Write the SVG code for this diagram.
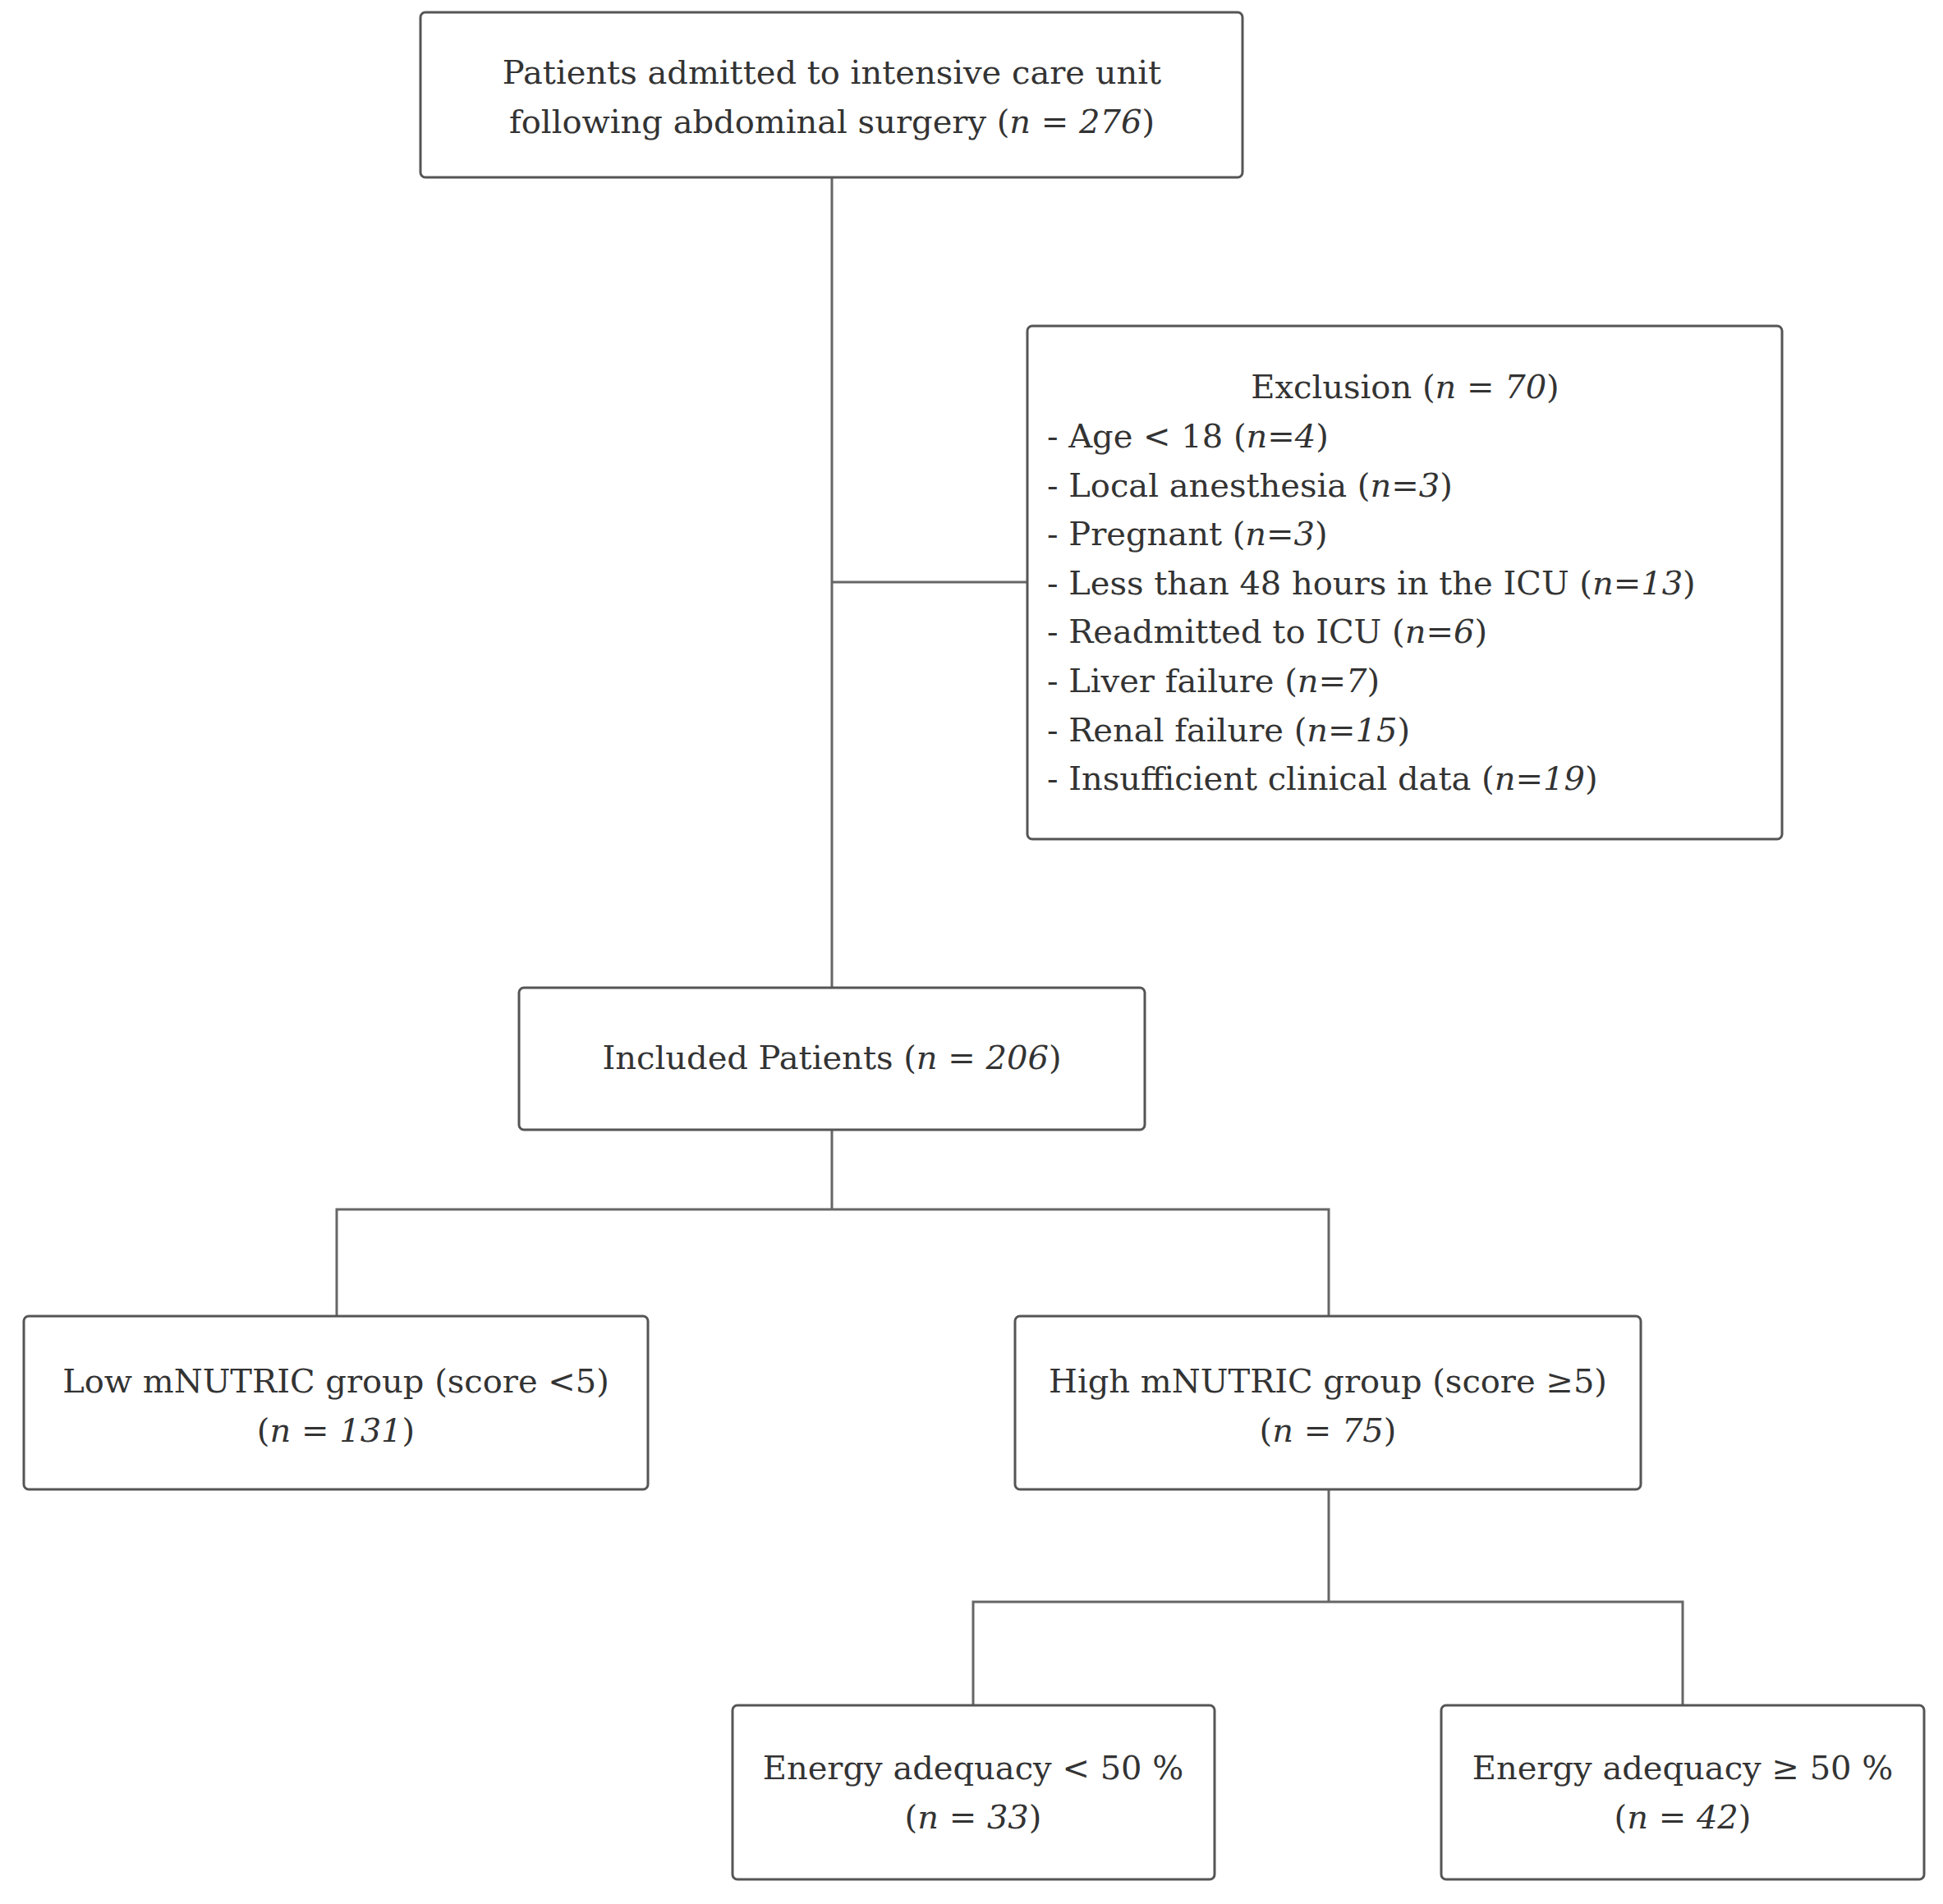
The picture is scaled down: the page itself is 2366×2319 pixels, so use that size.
<svg xmlns="http://www.w3.org/2000/svg" width="2366" height="2319" viewBox="0 0 2366 2319">
<style>
rect{fill:#fff;stroke:#555;stroke-width:3}
text{font-family:"DejaVu Serif","Liberation Serif",serif;font-size:40px;fill:#333}
.c{text-anchor:middle}
#connectors path{fill:none;stroke:#666;stroke-width:3}
</style>
<rect x="0" y="0" width="2366" height="2319" style="stroke:none"/>
<g id="connectors">
<path d="M1013 216V1203M1013 709H1251"/>
<path d="M1013 1376V1473M410 1603V1473H1618V1603"/>
<path d="M1618 1814V1951M1185 2077V1951H2049V2077"/>
</g>
<g id="n1"><rect x="512" y="15" width="1001" height="201" rx="6"/>
<text class="c" x="1013" y="102">Patients admitted to intensive care unit</text>
<text class="c" x="1013" y="162">following abdominal surgery (<tspan font-style="italic">n = 276</tspan>)</text></g>
<g id="excl"><rect x="1251" y="397" width="919" height="625" rx="6"/>
<text class="c" x="1711" y="485">Exclusion (<tspan font-style="italic">n = 70</tspan>)</text>
<text x="1275" y="545">- Age &lt; 18 (<tspan font-style="italic">n=4</tspan>)</text>
<text x="1275" y="605">- Local anesthesia (<tspan font-style="italic">n=3</tspan>)</text>
<text x="1275" y="664">- Pregnant (<tspan font-style="italic">n=3</tspan>)</text>
<text x="1275" y="724">- Less than 48 hours in the ICU (<tspan font-style="italic">n=13</tspan>)</text>
<text x="1275" y="783">- Readmitted to ICU (<tspan font-style="italic">n=6</tspan>)</text>
<text x="1275" y="843">- Liver failure (<tspan font-style="italic">n=7</tspan>)</text>
<text x="1275" y="903">- Renal failure (<tspan font-style="italic">n=15</tspan>)</text>
<text x="1275" y="962">- Insufficient clinical data (<tspan font-style="italic">n=19</tspan>)</text></g>
<g id="incl"><rect x="632" y="1203" width="762" height="173" rx="6"/>
<text class="c" x="1013" y="1302">Included Patients (<tspan font-style="italic">n = 206</tspan>)</text></g>
<g id="low"><rect x="29" y="1603" width="760" height="211" rx="6"/>
<text class="c" x="409" y="1696">Low mNUTRIC group (score &lt;5)</text>
<text class="c" x="409" y="1756">(<tspan font-style="italic">n = 131</tspan>)</text></g>
<g id="high"><rect x="1236" y="1603" width="762" height="211" rx="6"/>
<text class="c" x="1617" y="1696">High mNUTRIC group (score ≥5)</text>
<text class="c" x="1617" y="1756">(<tspan font-style="italic">n = 75</tspan>)</text></g>
<g id="e1"><rect x="892" y="2077" width="587" height="212" rx="6"/>
<text class="c" x="1185" y="2167">Energy adequacy &lt; 50 %</text>
<text class="c" x="1185" y="2227">(<tspan font-style="italic">n = 33</tspan>)</text></g>
<g id="e2"><rect x="1755" y="2077" width="588" height="212" rx="6"/>
<text class="c" x="2049" y="2167">Energy adequacy ≥ 50 %</text>
<text class="c" x="2049" y="2227">(<tspan font-style="italic">n = 42</tspan>)</text></g>
</svg>
